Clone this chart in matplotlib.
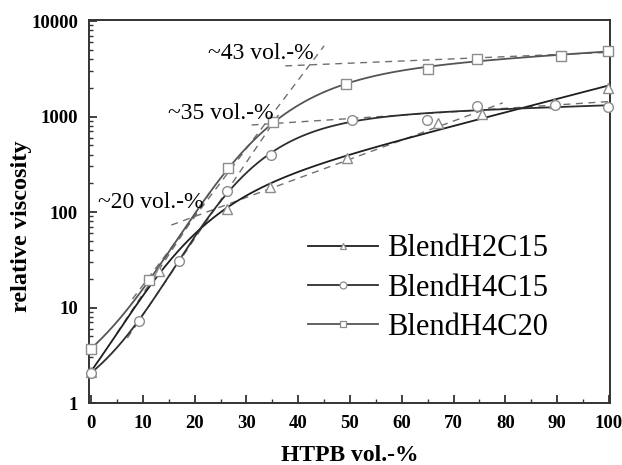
import numpy as np
import matplotlib
matplotlib.use("Agg")
import matplotlib.pyplot as plt
from matplotlib.lines import Line2D

# measured points (HTPB vol.-%, relative viscosity)
x_h2c15 = [0, 13.1, 26.2, 34.6, 49.4, 67.0, 75.4, 89.4, 99.8]
y_h2c15 = [2.1, 24, 107, 183, 367, 852, 1050, 1385, 1990]

x_h4c15 = [0, 9.3, 16.9, 26.2, 34.7, 50.4, 64.9, 74.5, 89.6, 99.9]
y_h4c15 = [2.07, 7.3, 31, 164, 395, 930, 925, 1290, 1320, 1256]

x_h4c20 = [0, 11.2, 26.5, 35.2, 49.2, 65.1, 74.5, 90.7, 99.9]
y_h4c20 = [3.67, 19.5, 286, 875, 2170, 3170, 4050, 4270, 4880]

# tangent lines (start/end) used to mark the transitions
tan_steep_20 = ([5, 23], [5.4, 161])
tan_flat_20 = ([15.5, 79.5], [73, 1390])
tan_steep_35 = ([7, 36.5], [4.8, 1100])
tan_flat_35 = ([31, 100], [815, 1436])
tan_steep_43 = ([8, 45], [12.3, 5500])
tan_flat_43 = ([37.5, 100], [3390, 4700])

labels = ["BlendH2C15", "BlendH4C15", "BlendH4C20"]
notes = ["~20 vol.-%", "~35 vol.-%", "~43 vol.-%"]


def fit_curve(xs, ys, xf):
    """least squares of log10(y) ~ a + b*x + c*sigmoid((x-x0)/w), grid over x0, w"""
    xs = np.asarray(xs, float)
    ly = np.log10(ys)
    best = None
    for x0 in np.arange(5, 45, 0.5):
        for w in np.arange(3, 20, 0.5):
            s = 1 / (1 + np.exp(-(xs - x0) / w))
            A = np.column_stack([np.ones_like(xs), xs, s])
            coef, *_ = np.linalg.lstsq(A, ly, rcond=None)
            r = np.sum((A @ coef - ly) ** 2)
            if best is None or r < best[0]:
                best = (r, x0, w, coef)
    _, x0, w, coef = best
    sf = 1 / (1 + np.exp(-(xf - x0) / w))
    return 10 ** (coef[0] + coef[1] * xf + coef[2] * sf)


plt.rcParams["font.family"] = ["Liberation Serif", "DejaVu Serif"]

fig = plt.figure(figsize=(6.22, 4.65), dpi=100)
ax = fig.add_axes([89 / 622, 1 - 403 / 465, 521 / 622, 383 / 465])

series = [
    (x_h2c15, y_h2c15, "^", "#1e1e1e"),
    (x_h4c15, y_h4c15, "o", "#2e2e2e"),
    (x_h4c20, y_h4c20, "s", "#555555"),
]
mk_edge = "#8c8c8c"

xf = np.linspace(0, 100, 400)
for xs, ys, mk, col in series:
    ax.plot(xf, fit_curve(xs, ys, xf), color=col, lw=1.3, zorder=3)
    ax.plot(xs, ys, ls="none", marker=mk, ms=7, mfc="white", mec=mk_edge,
            mew=1.0, zorder=4, clip_on=False)

for tx, ty in [tan_steep_20, tan_flat_20, tan_steep_35, tan_flat_35,
               tan_steep_43, tan_flat_43]:
    ax.plot(tx, ty, color="#707070", lw=1.0, ls=(0, (5, 4)), zorder=2)

ax.text(1.35, 126, notes[0], fontsize=17, va="center", ha="left", zorder=5)
ax.text(14.9, 1070, notes[1], fontsize=17, va="center", ha="left", zorder=5)
ax.text(22.6, 4570, notes[2], fontsize=17, va="center", ha="left", zorder=5)

ax.set_yscale("log")
ax.set_xlim(-0.4, 100.2)
ax.set_ylim(1, 10250)
ax.set_xticks(range(0, 101, 10))
ax.set_xticks(range(5, 100, 10), minor=True)
ax.set_yticks([1, 10, 100, 1000, 10000])
ax.set_yticklabels(["1", "10", "100", "1000", "10000"])
ax.tick_params(which="both", direction="in", top=False, right=False,
               color="#333333")
ax.tick_params(which="major", length=6, width=1.3, labelsize=13.5)
ax.tick_params(which="minor", length=3, width=1.0)
ax.tick_params(axis="x", which="major", pad=8.8)
ax.tick_params(axis="y", which="major", pad=8)
for lab in ax.get_xticklabels() + ax.get_yticklabels():
    lab.set_fontweight("bold")
for sp in ax.spines.values():
    sp.set_linewidth(1.4)
    sp.set_color("#333333")

ax.set_xlabel("HTPB vol.-%", fontsize=17, fontweight="bold")
ax.set_ylabel("relative viscosity", fontsize=17.5, fontweight="bold")
ax.xaxis.set_label_coords(0.5, -0.11)
ax.yaxis.set_label_coords(-0.109, 0.461)

handles = [Line2D([], [], color=col, lw=1.3, marker=mk, ms=5, mfc="white",
                  mec=mk_edge, mew=0.9) for _, _, mk, col in series]
ax.legend(handles, labels, loc="upper left", bbox_to_anchor=(0.42, 0.44),
          frameon=False, fontsize=22, handlelength=2.3, handletextpad=0.3,
          labelspacing=0.33, borderpad=0, borderaxespad=0)

fig.savefig("out.png", dpi=100)
